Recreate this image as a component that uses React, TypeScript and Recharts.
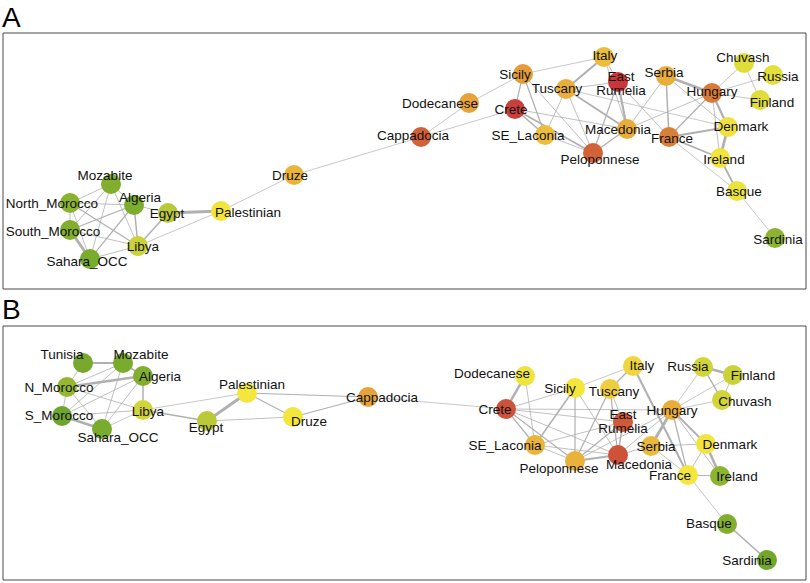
import React from 'react';
import {
  ScatterChart,
  Scatter,
  XAxis,
  YAxis,
  ReferenceLine,
  ReferenceArea,
} from 'recharts';

// Node layout (layout coords), colour score 0 = green ... 1 = red
const nodesA = [
  { name: 'Mozabite', x: 111, y: 184, score: 0.05 },
  { name: 'North_Morocco', x: 70, y: 203, score: 0.07 },
  { name: 'Algeria', x: 134, y: 205, score: 0.04 },
  { name: 'Egypt', x: 168, y: 213, score: 0.2 },
  { name: 'Palestinian', x: 221, y: 211, score: 0.36 },
  { name: 'South_Morocco', x: 70, y: 230, score: 0.05 },
  { name: 'Libya', x: 138, y: 246, score: 0.24 },
  { name: 'Sahara_OCC', x: 90, y: 259, score: 0.03 },
  { name: 'Druze', x: 294, y: 175, score: 0.55 },
  { name: 'Dodecanese', x: 469, y: 103, score: 0.62 },
  { name: 'Cappadocia', x: 421, y: 137, score: 0.88 },
  { name: 'Sicily', x: 523, y: 74, score: 0.65 },
  { name: 'Crete', x: 515, y: 109, score: 0.98 },
  { name: 'SE_Laconia', x: 545, y: 135, score: 0.52 },
  { name: 'Tuscany', x: 566, y: 89, score: 0.57 },
  { name: 'Italy', x: 604, y: 57, score: 0.52 },
  { name: 'East\nRumelia', x: 618, y: 82, score: 1.0 },
  { name: 'Serbia', x: 666, y: 76, score: 0.58 },
  { name: 'Hungary', x: 712, y: 93, score: 0.8 },
  { name: 'Chuvash', x: 744, y: 63, score: 0.3 },
  { name: 'Russia', x: 773, y: 75, score: 0.31 },
  { name: 'Finland', x: 760, y: 100, score: 0.3 },
  { name: 'Denmark', x: 728, y: 127, score: 0.37 },
  { name: 'Macedonia', x: 627, y: 129, score: 0.58 },
  { name: 'France', x: 669, y: 137, score: 0.78 },
  { name: 'Peloponnese', x: 593, y: 153, score: 0.87 },
  { name: 'Ireland', x: 720, y: 158, score: 0.36 },
  { name: 'Basque', x: 737, y: 191, score: 0.33 },
  { name: 'Sardinia', x: 775, y: 238, score: 0.08 },
];

const edgesA: [string, string, number][] = [
  ['Mozabite', 'North_Morocco', 0.8],
  ['Mozabite', 'South_Morocco', 0.8],
  ['Mozabite', 'Sahara_OCC', 0.8],
  ['Mozabite', 'Libya', 0.8],
  ['Mozabite', 'Algeria', 0.8],
  ['North_Morocco', 'Algeria', 0.8],
  ['North_Morocco', 'South_Morocco', 0.8],
  ['North_Morocco', 'Sahara_OCC', 0.8],
  ['North_Morocco', 'Libya', 1.2],
  ['South_Morocco', 'Algeria', 1.2],
  ['South_Morocco', 'Sahara_OCC', 2.8],
  ['South_Morocco', 'Libya', 0.8],
  ['Sahara_OCC', 'Algeria', 1.2],
  ['Sahara_OCC', 'Libya', 0.8],
  ['Algeria', 'Libya', 1.5],
  ['Algeria', 'Egypt', 0.8],
  ['Libya', 'Egypt', 1.5],
  ['Libya', 'Palestinian', 0.7],
  ['Egypt', 'Palestinian', 2.8],
  ['Palestinian', 'Druze', 0.7],
  ['Druze', 'Cappadocia', 0.7],
  ['Cappadocia', 'Dodecanese', 0.7],
  ['Cappadocia', 'Crete', 0.7],
  ['Dodecanese', 'Sicily', 0.7],
  ['Sicily', 'Italy', 0.7],
  ['Sicily', 'Crete', 1.2],
  ['Sicily', 'SE_Laconia', 1.2],
  ['Sicily', 'Peloponnese', 0.8],
  ['Crete', 'SE_Laconia', 1.5],
  ['Crete', 'Peloponnese', 1.5],
  ['Crete', 'Macedonia', 0.8],
  ['SE_Laconia', 'Peloponnese', 0.8],
  ['Tuscany', 'Italy', 2.0],
  ['Tuscany', 'East\nRumelia', 0.8],
  ['Tuscany', 'SE_Laconia', 0.8],
  ['Tuscany', 'Peloponnese', 0.8],
  ['Tuscany', 'Macedonia', 1.8],
  ['Tuscany', 'Denmark', 0.7],
  ['Italy', 'East\nRumelia', 0.8],
  ['Italy', 'Macedonia', 0.8],
  ['East\nRumelia', 'Macedonia', 2.2],
  ['East\nRumelia', 'Peloponnese', 1.2],
  ['East\nRumelia', 'France', 0.8],
  ['Macedonia', 'Peloponnese', 1.2],
  ['Macedonia', 'Serbia', 0.8],
  ['Macedonia', 'Hungary', 0.8],
  ['Serbia', 'Hungary', 2.5],
  ['Serbia', 'France', 1.5],
  ['Serbia', 'Denmark', 0.8],
  ['Hungary', 'France', 1.2],
  ['Hungary', 'Chuvash', 0.7],
  ['Hungary', 'Russia', 0.7],
  ['Hungary', 'Finland', 0.7],
  ['Hungary', 'Denmark', 2.2],
  ['Hungary', 'Ireland', 0.8],
  ['Chuvash', 'Finland', 0.7],
  ['France', 'Denmark', 1.8],
  ['France', 'Ireland', 1.8],
  ['France', 'Basque', 0.7],
  ['Denmark', 'Ireland', 2.8],
  ['Ireland', 'Basque', 1.8],
  ['Basque', 'Sardinia', 0.7],
];

const nodesB = [
  { name: 'Tunisia', x: 83, y: 363, score: 0.02 },
  { name: 'Mozabite', x: 123, y: 363, score: 0.03 },
  { name: 'Algeria', x: 143, y: 376, score: 0.05 },
  { name: 'N_Morocco', x: 67, y: 387, score: 0.1 },
  { name: 'Palestinian', x: 247, y: 393, score: 0.35 },
  { name: 'Cappadocia', x: 368, y: 397, score: 0.62 },
  { name: 'Libya', x: 143, y: 410, score: 0.26 },
  { name: 'S_Morocco', x: 62, y: 416, score: 0.0 },
  { name: 'Druze', x: 293, y: 417, score: 0.35 },
  { name: 'Egypt', x: 207, y: 421, score: 0.2 },
  { name: 'Sahara_OCC', x: 102, y: 429, score: 0.03 },
  { name: 'Dodecanese', x: 525, y: 376, score: 0.34 },
  { name: 'Italy', x: 633, y: 366, score: 0.42 },
  { name: 'Russia', x: 703, y: 367, score: 0.26 },
  { name: 'Finland', x: 733, y: 375, score: 0.24 },
  { name: 'Sicily', x: 575, y: 388, score: 0.35 },
  { name: 'Tuscany', x: 610, y: 389, score: 0.45 },
  { name: 'Chuvash', x: 722, y: 400, score: 0.26 },
  { name: 'Crete', x: 506, y: 409, score: 0.92 },
  { name: 'Hungary', x: 672, y: 410, score: 0.58 },
  { name: 'East\nRumelia', x: 623, y: 422, score: 0.9 },
  { name: 'SE_Laconia', x: 535, y: 445, score: 0.55 },
  { name: 'Serbia', x: 651, y: 446, score: 0.53 },
  { name: 'Denmark', x: 706, y: 444, score: 0.36 },
  { name: 'Macedonia', x: 618, y: 455, score: 0.92 },
  { name: 'Peloponnese', x: 575, y: 461, score: 0.56 },
  { name: 'France', x: 688, y: 475, score: 0.35 },
  { name: 'Ireland', x: 720, y: 476, score: 0.08 },
  { name: 'Basque', x: 727, y: 524, score: 0.05 },
  { name: 'Sardinia', x: 767, y: 560, score: 0.01 },
];

const edgesB: [string, string, number][] = [
  ['Tunisia', 'Mozabite', 1.8],
  ['Tunisia', 'N_Morocco', 0.8],
  ['Mozabite', 'N_Morocco', 0.8],
  ['Mozabite', 'Algeria', 1.5],
  ['Mozabite', 'S_Morocco', 0.8],
  ['Mozabite', 'Sahara_OCC', 0.8],
  ['N_Morocco', 'Algeria', 2.5],
  ['N_Morocco', 'S_Morocco', 0.8],
  ['N_Morocco', 'Sahara_OCC', 0.8],
  ['N_Morocco', 'Libya', 0.8],
  ['S_Morocco', 'Algeria', 0.8],
  ['S_Morocco', 'Sahara_OCC', 2.5],
  ['S_Morocco', 'Libya', 0.8],
  ['Sahara_OCC', 'Algeria', 0.8],
  ['Sahara_OCC', 'Libya', 0.7],
  ['Algeria', 'Libya', 1.5],
  ['Libya', 'Palestinian', 0.7],
  ['Libya', 'Egypt', 1.5],
  ['Egypt', 'Palestinian', 2.8],
  ['Egypt', 'Druze', 0.8],
  ['Palestinian', 'Druze', 1.2],
  ['Palestinian', 'Cappadocia', 1.2],
  ['Druze', 'Cappadocia', 1.2],
  ['Cappadocia', 'Crete', 0.7],
  ['Dodecanese', 'Crete', 2.5],
  ['Dodecanese', 'SE_Laconia', 0.8],
  ['Crete', 'Sicily', 0.8],
  ['Crete', 'SE_Laconia', 1.2],
  ['Crete', 'Peloponnese', 1.2],
  ['Crete', 'Macedonia', 0.8],
  ['Crete', 'East\nRumelia', 0.8],
  ['Crete', 'Hungary', 0.8],
  ['Sicily', 'Italy', 0.7],
  ['Sicily', 'SE_Laconia', 1.5],
  ['Sicily', 'Peloponnese', 1.2],
  ['Sicily', 'Macedonia', 0.8],
  ['Tuscany', 'Italy', 1.2],
  ['Tuscany', 'Peloponnese', 1.2],
  ['Tuscany', 'Macedonia', 1.2],
  ['Tuscany', 'East\nRumelia', 0.8],
  ['Italy', 'France', 2.0],
  ['SE_Laconia', 'Peloponnese', 0.8],
  ['SE_Laconia', 'East\nRumelia', 0.8],
  ['SE_Laconia', 'Macedonia', 0.8],
  ['Peloponnese', 'Macedonia', 2.2],
  ['Peloponnese', 'East\nRumelia', 1.2],
  ['Peloponnese', 'Hungary', 0.8],
  ['East\nRumelia', 'Macedonia', 1.5],
  ['Macedonia', 'Serbia', 0.8],
  ['Macedonia', 'Hungary', 0.8],
  ['Serbia', 'Hungary', 2.8],
  ['Serbia', 'France', 0.8],
  ['Serbia', 'Denmark', 0.8],
  ['Hungary', 'Russia', 0.7],
  ['Hungary', 'Finland', 0.7],
  ['Hungary', 'Chuvash', 0.7],
  ['Hungary', 'Denmark', 1.8],
  ['Hungary', 'France', 1.2],
  ['Hungary', 'Ireland', 0.8],
  ['Russia', 'Finland', 2.5],
  ['Russia', 'Chuvash', 1.5],
  ['Finland', 'Chuvash', 0.8],
  ['Denmark', 'France', 0.8],
  ['Denmark', 'Ireland', 2.5],
  ['France', 'Ireland', 1.2],
  ['France', 'Basque', 0.7],
  ['Basque', 'Sardinia', 1.5],
];

// label placement relative to node centre (px)
const labelOffsetA: Record<string, [number, number]> = {
  Mozabite: [-6, -9], North_Morocco: [-18, 0], Algeria: [6, -8], Egypt: [-1, 0],
  Palestinian: [27, 1], South_Morocco: [-17, 1], Libya: [5, 0], Sahara_OCC: [-3, 2],
  Druze: [-4, 0], Dodecanese: [-29, 0], Cappadocia: [-8, -2], Sicily: [-8, 0],
  Crete: [-4, 0], SE_Laconia: [-17, 0], Tuscany: [-9, -1], Italy: [1, -2],
  'East\nRumelia': [3, 1], Serbia: [-2, -4], Hungary: [0, -2], Chuvash: [-1, -6],
  Russia: [5, 1], Finland: [12, 2], Denmark: [13, -1], Macedonia: [-9, 0],
  France: [3, 1], Peloponnese: [7, 6], Ireland: [4, 1], Basque: [2, 0], Sardinia: [3, 1],
};

const labelOffsetB: Record<string, [number, number]> = {
  Tunisia: [-21, -9], Mozabite: [18, -9], Algeria: [17, 0], N_Morocco: [-8, 0],
  Palestinian: [5, -9], Cappadocia: [14, 0], Libya: [5, 1], S_Morocco: [-3, -1],
  Druze: [16, 4], Egypt: [-1, 6], Sahara_OCC: [16, 8], Dodecanese: [-33, -3],
  Italy: [9, -1], Russia: [-15, -1], Finland: [20, 0], Sicily: [-15, 0],
  Tuscany: [4, 2], Chuvash: [23, 1], Crete: [-11, 0], Hungary: [0, 0],
  'East\nRumelia': [0, -1], SE_Laconia: [-30, 0], Serbia: [5, 0], Denmark: [24, 0],
  Macedonia: [21, 9], Peloponnese: [-16, 7], France: [-18, 0], Ireland: [17, 0],
  Basque: [-18, -1], Sardinia: [-20, 0],
};

const colorStops: [number, number[]][] = [
  [0, [110, 165, 44]],
  [0.35, [243, 230, 61]],
  [0.6, [232, 168, 58]],
  [0.8, [216, 122, 56]],
  [1, [200, 56, 58]],
];

function scoreColor(t: number) {
  for (let i = 1; i < colorStops.length; i++) {
    const [t1, c1] = colorStops[i];
    const [t0, c0] = colorStops[i - 1];
    if (t <= t1) {
      const f = (t - t0) / (t1 - t0);
      const c = c0.map((v, k) => Math.round(v + (c1[k] - v) * f));
      return `rgb(${c[0]},${c[1]},${c[2]})`;
    }
  }
  return 'rgb(200,56,58)';
}

const FONT = '"Liberation Sans", Arial, Helvetica, sans-serif';

function NetworkPanel({
  nodes,
  edges,
  offsets,
  top,
  height,
  box,
}: {
  nodes: { name: string; x: number; y: number; score: number }[];
  edges: [string, string, number][];
  offsets: Record<string, [number, number]>;
  top: number;
  height: number;
  box: [number, number, number, number];
}) {
  const byName: Record<string, { x: number; y: number }> = {};
  nodes.forEach((n) => (byName[n.name] = n));

  return (
    <ScatterChart
      width={810}
      height={height}
      margin={{ top: 0, right: 0, bottom: 0, left: 0 }}
    >
      <XAxis type="number" dataKey="x" domain={[0, 810]} hide />
      <YAxis type="number" dataKey="y" domain={[top, top + height]} reversed hide />
      <ReferenceArea
        x1={box[0]}
        x2={box[2]}
        y1={box[1]}
        y2={box[3]}
        fill="none"
        stroke="#4a4a4a"
        strokeWidth={1}
        ifOverflow="visible"
      />
      {edges.map(([a, b, w], i) => (
        <ReferenceLine
          key={`e-${i}`}
          segment={[
            { x: byName[a].x, y: byName[a].y },
            { x: byName[b].x, y: byName[b].y },
          ]}
          stroke="#b0b0b0"
          strokeWidth={w}
          ifOverflow="visible"
        />
      ))}
      <Scatter
        data={nodes}
        isAnimationActive={false}
        shape={(p: any) => (
          <circle cx={p.cx} cy={p.cy} r={10} fill={scoreColor(p.payload.score)} />
        )}
      />
      <Scatter
        data={nodes}
        isAnimationActive={false}
        shape={(p: any) => {
          const [dx, dy] = offsets[p.payload.name] || [0, 0];
          const lines = p.payload.name.split('\n');
          const x = p.cx + dx;
          const y0 = p.cy + dy - ((lines.length - 1) * 14) / 2;
          return (
            <text
              x={x}
              textAnchor="middle"
              dominantBaseline="central"
              fontFamily={FONT}
              fontSize={13.5}
              fill="#111"
            >
              {lines.map((l: string, k: number) => (
                <tspan key={k} x={x} y={y0 + k * 14}>
                  {l}
                </tspan>
              ))}
            </text>
          );
        }}
      />
    </ScatterChart>
  );
}

export default function App() {
  return (
    <div
      style={{
        position: 'absolute',
        left: 0,
        top: 0,
        width: 810,
        height: 583,
        background: '#fff',
        fontFamily: FONT,
      }}
    >
      <div style={{ position: 'absolute', left: 2, top: 4, fontSize: 28, lineHeight: '28px' }}>
        A
      </div>
      <div style={{ position: 'absolute', left: 2, top: 296, fontSize: 28, lineHeight: '28px' }}>
        B
      </div>
      <div style={{ position: 'absolute', left: 0, top: 0 }}>
        <NetworkPanel
          nodes={nodesA}
          edges={edgesA}
          offsets={labelOffsetA}
          top={0}
          height={292}
          box={[3, 33, 806, 289]}
        />
      </div>
      <div style={{ position: 'absolute', left: 0, top: 292 }}>
        <NetworkPanel
          nodes={nodesB}
          edges={edgesB}
          offsets={labelOffsetB}
          top={292}
          height={291}
          box={[3, 326, 806, 580]}
        />
      </div>
    </div>
  );
}
